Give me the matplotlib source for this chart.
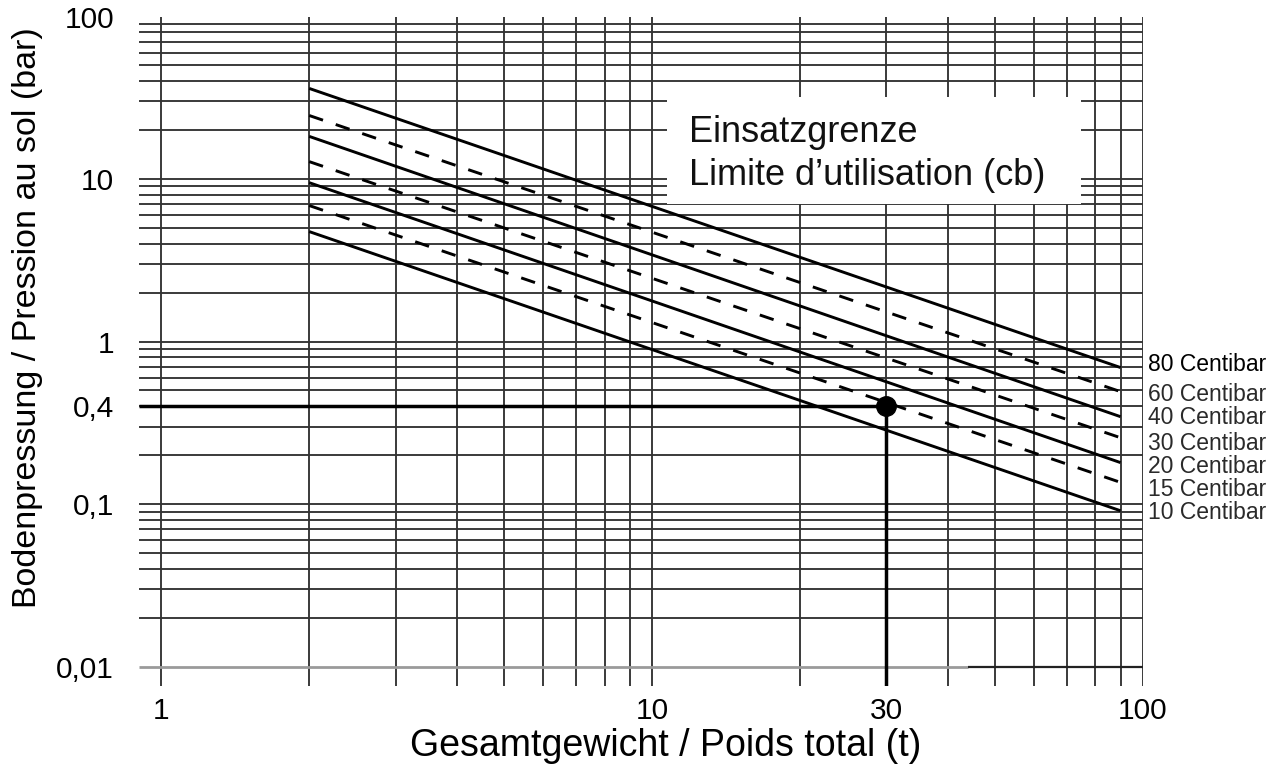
import matplotlib
matplotlib.use("Agg")
import matplotlib.pyplot as plt
from matplotlib.ticker import FixedLocator, FixedFormatter, NullLocator
from matplotlib.patches import Rectangle
import numpy as np

# ---------------- data ----------------
centibar = [80, 60, 40, 30, 20, 15, 10]
line_dashed = [False, True, False, True, False, True, False]
weight_start = 2.0          # t
weight_end = 90.0           # t
pressure_at_start = [36.1, 24.6, 18.3, 12.8, 9.5, 6.87, 4.75]      # bar at 2 t
pressure_at_end = [0.692, 0.492, 0.345, 0.256, 0.180, 0.136, 0.091]  # bar at 90 t

example_weight = 30.0
example_pressure = 0.4

x_major = [1, 10, 30, 100]
x_major_labels = ["1", "10", "30", "100"]
y_major = [100, 10, 1, 0.4, 0.1, 0.01]
y_major_labels = ["100", "10", "1", "0,4", "0,1", "0,01"]

x_grid = [1, 2, 3, 4, 5, 6, 7, 8, 9, 10, 20, 30, 40, 50, 60, 70, 80, 90, 100]
y_grid = [m * 10.0 ** e for e in (-2, -1, 0, 1) for m in range(1, 10)] + [100.0]
y_grid = [v for v in y_grid if v > 0.0101]

label_y = [0.719, 0.470, 0.340, 0.235, 0.170, 0.1225, 0.0885]

# ---------------- figure ----------------
plt.rcParams['font.family'] = ['Liberation Sans', 'DejaVu Sans']
fig = plt.figure(figsize=(12.86, 7.67), dpi=100)
W, H = 1286, 767
ax_left, ax_right, ax_top, ax_bottom = 139, 1143, 16.5, 686
ax = fig.add_axes([ax_left / W, 1 - ax_bottom / H,
                   (ax_right - ax_left) / W, (ax_bottom - ax_top) / H])
ax.set_xscale('log')
ax.set_yscale('log')
ax.set_xlim(0.9, 100)
ax.set_ylim(0.0076, 100)

for s in ax.spines.values():
    s.set_visible(False)

grid_col = '#333333'
ax.xaxis.set_major_locator(FixedLocator(x_major))
ax.xaxis.set_major_formatter(FixedFormatter(x_major_labels))
ax.yaxis.set_major_locator(FixedLocator(y_major))
ax.yaxis.set_major_formatter(FixedFormatter(y_major_labels))
ax.xaxis.set_minor_locator(NullLocator())
ax.yaxis.set_minor_locator(NullLocator())
ax.tick_params(which='both', length=0)
ax.tick_params(axis='y', pad=18, labelsize=21.5)
ax.tick_params(axis='x', pad=8, labelsize=21.5)

# grid
for xv in x_grid:
    ax.axvline(xv, color=grid_col, linewidth=1.35, zorder=1)
for yv in y_grid:
    ax.axhline(yv, color=grid_col, linewidth=1.35, zorder=1)

# 0.01 bottom line (grey then black)
ax.hlines(0.01, 0.9, 44, color='#9a9a9a', linewidth=2.0, zorder=1)
ax.hlines(0.01, 44, 100, color='#222222', linewidth=1.6, zorder=1)

# white box with text
box = Rectangle((10.7, 6.98), 74.6 - 10.7, 31.8 - 6.98, facecolor='white',
                edgecolor='none', zorder=3)
ax.add_patch(box)
ax.text(11.9, 16.9, "Einsatzgrenze", fontsize=26, va='baseline', ha='left',
        color='#111111', zorder=5)
ax.text(11.9, 9.2, "Limite d\u2019utilisation (cb)", fontsize=26, va='baseline',
        ha='left', color='#111111', zorder=5)

# limit lines
for cb, dashed, p0, p1 in zip(centibar, line_dashed, pressure_at_start, pressure_at_end):
    ls = (0, (5.0, 4.6)) if dashed else '-'
    ax.plot([weight_start, weight_end], [p0, p1], color='black', linewidth=2.1,
            linestyle=ls, zorder=4, solid_capstyle='butt')

# example reading
ax.plot([0.9, example_weight], [example_pressure, example_pressure], color='black',
        linewidth=2.5, zorder=4, solid_capstyle='butt')
ax.plot([example_weight, example_weight], [0.0076, example_pressure], color='black',
        linewidth=2.5, zorder=4, solid_capstyle='butt')
ax.plot([example_weight], [example_pressure], 'o', color='black', markersize=14,
        zorder=6, clip_on=False)

# right labels
for i, (cb, yv) in enumerate(zip(centibar, label_y)):
    ax.text(1.005, yv, f"{cb} Centibar", transform=ax.get_yaxis_transform(),
            fontsize=16.5, va='center', ha='left',
            color='black' if i == 0 else '#2a2a2a', clip_on=False)

ax.set_xlabel("Gesamtgewicht / Poids total (t)", fontsize=27)
ax.xaxis.set_label_coords(0.525, -0.063)
ax.set_ylabel("Bodenpressung / Pression au sol (bar)", fontsize=24.5, va='center')
ax.yaxis.set_label_coords(-0.1115, 0.55)

fig.savefig("out.png", dpi=100, facecolor='white')
